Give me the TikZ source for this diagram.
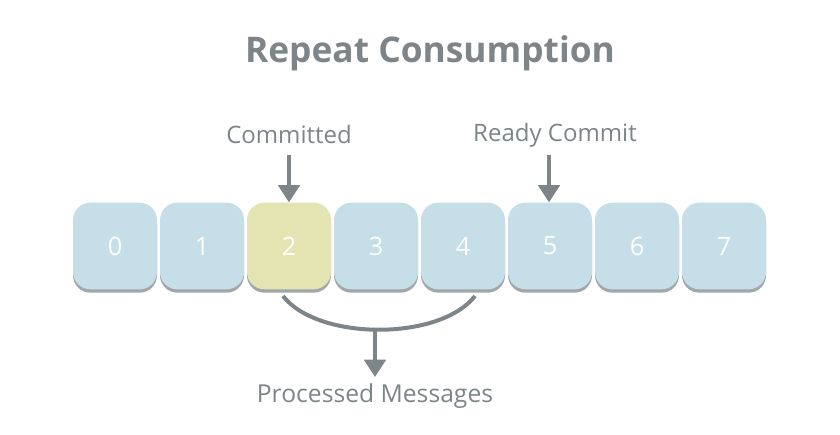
\documentclass[tikz,border=0pt]{standalone}
\usepackage{fontspec}
\setmainfont{Open Sans}
\usetikzlibrary{arrows.meta, positioning, shadows, calc}
\definecolor{slate}{HTML}{7D8589}
\definecolor{cellblue}{HTML}{C5DEE8}
\definecolor{cellgold}{HTML}{E4E4B2}
\definecolor{shade}{HTML}{969CA0}
\tikzset{
  cell/.style={rounded corners=13pt, minimum width=63pt, minimum height=65pt, inner sep=0pt,
     text=white, font=\fontsize{19}{19}\selectfont,
     drop shadow={shadow xshift=0pt, shadow yshift=-2.5pt, fill=shade, opacity=0.9}},
  tag/.style={text=slate, font=\fontsize{18}{18}\selectfont},
  pointer/.style={slate, line width=3pt, -{Triangle[width=16pt,length=13pt]}}
}
\begin{document}
\begin{tikzpicture}[x=0.75pt, y=-0.75pt]
  \useasboundingbox (0,0) rectangle (840,435);
  \node[text=slate, font=\fontsize{26.5}{26.5}\selectfont\bfseries] (title) at (430,53) {Repeat Consumption};
  % the offset cells
  \foreach \i in {0,...,7}{
     \ifnum\i=2 \def\cellcol{cellgold}\else\def\cellcol{cellblue}\fi
     \node[cell, fill=\cellcol] (b\i) at (115+87*\i,246) {\i};}
  \node[tag] (committed) at (289,135) {Committed};
  \node[tag] (ready) at (555,135) {Ready Commit};
  \draw[pointer] (b2.north |- 0,155) -- (b2.north);
  \draw[pointer] ($(b5.north |- 0,155)+(-1,0)$) -- ($(b5.north)+(-1,0)$);
  % bracket under the processed cells
  \coordinate (arcl) at (283,296);
  \coordinate (arcr) at (475,296);
  \coordinate (arcm) at (375,329);
  \draw[slate, line width=3pt] (arcl) .. controls (318,341) and (440,341) .. (arcr);
  \node[tag, font=\fontsize{18.5}{18.5}\selectfont] (processed) at (375,396) {Processed Messages};
  \draw[pointer] (arcm) -- ($(processed.north)+(0,-2)$);
\end{tikzpicture}
\end{document}
